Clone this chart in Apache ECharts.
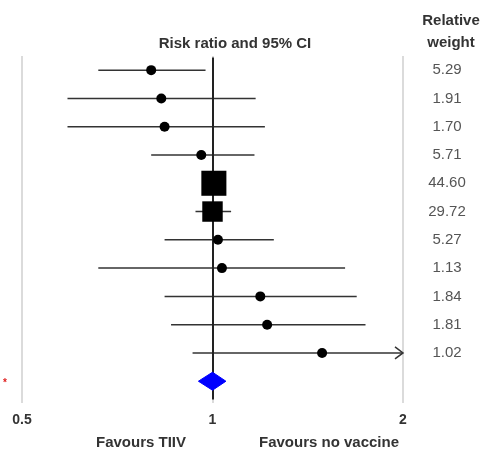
<!DOCTYPE html>
<html>
<head>
<meta charset="utf-8">
<script src="https://cdn.jsdelivr.net/npm/echarts@6/dist/echarts.min.js"></script>
<style>
  html, body { margin: 0; padding: 0; background: #fff; }
  #chart { width: 481px; height: 450px; }
</style>
</head>
<body>
<div id="chart"></div>
<script>
// risk ratios and 95% CI per study, top to bottom
var ratio = [0.80, 0.83, 0.84, 0.96, 1.005, 1.00, 1.02, 1.035, 1.19, 1.22, 1.49];
var lower = [0.66, 0.59, 0.59, 0.80, 0.97, 0.94, 0.84, 0.66, 0.84, 0.86, 0.93];
var upper = [0.975, 1.17, 1.21, 1.165, 1.04, 1.07, 1.25, 1.62, 1.69, 1.745, 2.25];
var weights = ['5.29', '1.91', '1.70', '5.71', '44.60', '29.72', '5.27', '1.13', '1.84', '1.81', '1.02'];
var pooled = [1.00, 0.95, 1.05]; // estimate, lower, upper
var xTicks = [0.5, 1, 2];

var font = "'Liberation Sans', Arial, sans-serif";
var xMax = xTicks[xTicks.length - 1];

var ciData = [];
var pointData = [];
var weightData = [];
for (var i = 0; i < ratio.length; i++) {
    var row = i + 0.5;
    ciData.push([lower[i], upper[i], row]);
    var w = parseFloat(weights[i]);
    if (w > 20) {
        var s = 3.75 * Math.sqrt(w);
        pointData.push({ value: [ratio[i], row], symbol: 'rect', symbolSize: s });
    } else {
        pointData.push({ value: [ratio[i], row], symbol: 'circle', symbolSize: 10 });
    }
    weightData.push([xMax, row, weights[i]]);
}
var pooledRow = ratio.length + 0.5;

var headStyle = { fontSize: 15, fontWeight: 'bold', color: '#333', fontFamily: font };

var chart = echarts.init(document.getElementById('chart'));
chart.setOption({
    animation: false,
    backgroundColor: '#fff',
    textStyle: { fontFamily: font },
    title: [
        { text: 'Risk ratio and 95% CI', left: 230, top: 31, textAlign: 'center', textStyle: headStyle },
        { text: 'Relative\nweight', left: 446, top: 5, textAlign: 'center',
          textStyle: { fontSize: 15, fontWeight: 'bold', color: '#333', lineHeight: 22, fontFamily: font } },
        { text: 'Favours TIIV', left: 136, top: 430, textAlign: 'center', textStyle: headStyle },
        { text: 'Favours no vaccine', left: 324, top: 430, textAlign: 'center', textStyle: headStyle },
        { text: '*', left: -2, top: 373,
          textStyle: { fontSize: 10, color: '#e02020', fontFamily: font } }
    ],
    grid: { left: 22, right: 78, top: 56, bottom: 47 },
    xAxis: {
        type: 'log',
        logBase: 2,
        min: xTicks[0],
        max: xMax,
        splitNumber: 2,
        axisLine: { show: false },
        axisTick: { show: false },
        axisLabel: {
            margin: 10,
            fontSize: 14,
            fontWeight: 'bold',
            color: '#333',
            fontFamily: font,
            formatter: function (v) { return String(+v.toFixed(2)); }
        },
        splitLine: { show: true, lineStyle: { color: '#cfcfcf', width: 1.5 } }
    },
    yAxis: {
        type: 'value',
        inverse: true,
        min: 0,
        max: 12.27,
        show: false,
        splitLine: { show: false }
    },
    series: [
        {
            type: 'custom',
            data: ciData,
            encode: { x: [0, 1], y: 2 },
            renderItem: function (params, api) {
                var lo = api.value(0), hi = api.value(1), row = api.value(2);
                var p1 = api.coord([lo, row]);
                var p2 = api.coord([Math.min(hi, xMax), row]);
                var children = [{
                    type: 'line',
                    shape: { x1: p1[0], y1: p1[1], x2: p2[0], y2: p2[1] },
                    style: { stroke: '#333', lineWidth: 1.5 }
                }];
                if (hi > xMax) {
                    children.push({
                        type: 'polyline',
                        shape: { points: [[p2[0] - 8, p2[1] - 6], [p2[0], p2[1]], [p2[0] - 8, p2[1] + 6]] },
                        style: { stroke: '#333', lineWidth: 1.5, fill: null }
                    });
                }
                return { type: 'group', children: children };
            },
            markLine: {
                silent: true,
                symbol: 'none',
                label: { show: false },
                lineStyle: { color: '#222', width: 2, type: 'solid' },
                data: [[{ coord: [1, 0.05] }, { coord: [1, 12.15] }]]
            },
            z: 3
        },
        {
            type: 'scatter',
            data: pointData,
            itemStyle: { color: '#000', opacity: 1 },
            z: 5
        },
        {
            type: 'custom',
            data: [pooled.concat([pooledRow])],
            encode: { x: [0, 1, 2], y: 3 },
            renderItem: function (params, api) {
                var c = api.coord([api.value(0), api.value(3)]);
                var l = api.coord([api.value(1), api.value(3)]);
                var r = api.coord([api.value(2), api.value(3)]);
                return {
                    type: 'polygon',
                    shape: { points: [[l[0], c[1]], [c[0], c[1] - 9], [r[0], c[1]], [c[0], c[1] + 9]] },
                    style: { fill: '#0000ff', stroke: '#0000ff', lineWidth: 1 }
                };
            },
            z: 6
        },
        {
            type: 'custom',
            data: weightData,
            encode: { x: 0, y: 1 },
            renderItem: function (params, api) {
                var p = api.coord([api.value(0), api.value(1)]);
                return {
                    type: 'text',
                    style: {
                        x: p[0] + 44, y: p[1],
                        text: weights[params.dataIndex],
                        fill: '#555', fontSize: 15, fontFamily: font,
                        align: 'center', verticalAlign: 'middle'
                    }
                };
            },
            z: 4
        }
    ]
});
</script>
</body>
</html>
